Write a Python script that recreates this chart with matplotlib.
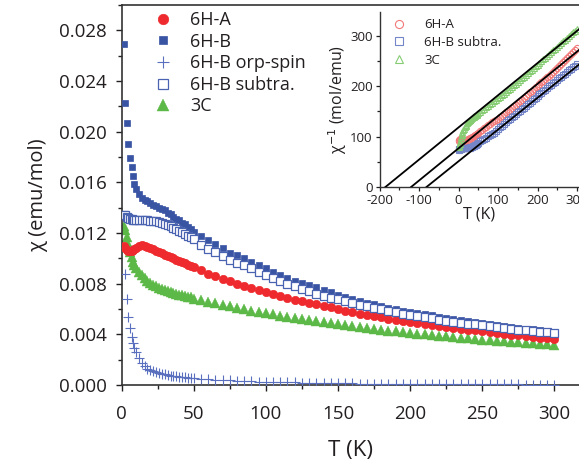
import numpy as np
import matplotlib
matplotlib.use('Agg')
import matplotlib.pyplot as plt
from matplotlib.ticker import MultipleLocator, FormatStrFormatter

plt.rcParams['font.family'] = ['Open Sans', 'DejaVu Sans']
plt.rcParams['axes.unicode_minus'] = False

# temperature grid (K)
T_low = [2, 2.5, 3.5, 4.5, 6, 7, 8, 9, 10, 12, 14, 16, 18, 20, 22, 24, 26, 28,
         30, 32, 34, 36, 38, 40, 42, 44, 46, 48]
T_high = list(range(50, 301, 5))
temps = np.array(T_low + T_high, dtype=float)

# susceptibility (emu/mol)
chi_6HA = [0.01100, 0.01080, 0.01065, 0.01057, 0.01054, 0.01055, 0.01062, 0.01072, 0.01082,
           0.01095, 0.01102, 0.01100, 0.01093, 0.01083, 0.01070, 0.01060, 0.01050, 0.01040,
           0.01030, 0.01020, 0.01010, 0.01000, 0.00990, 0.00980, 0.00970, 0.00960, 0.00950,
           0.00942,
           0.00934, 0.00905, 0.00880, 0.00858, 0.00838, 0.00818, 0.00798, 0.00780, 0.00765,
           0.00750, 0.00736, 0.00720, 0.00706, 0.00690, 0.00675, 0.00662, 0.00650, 0.00638,
           0.00625, 0.00612, 0.00600, 0.00588, 0.00576, 0.00564, 0.00553, 0.00543, 0.00533,
           0.00523, 0.00514, 0.00505, 0.00497, 0.00489, 0.00481, 0.00473, 0.00466, 0.00459,
           0.00452, 0.00445, 0.00438, 0.00431, 0.00424, 0.00417, 0.00411, 0.00404, 0.00398,
           0.00392, 0.00386, 0.00380, 0.00374, 0.00368, 0.00363]

chi_6HB = [0.02690, 0.02230, 0.02070, 0.01900, 0.01790, 0.01720, 0.01650, 0.01590, 0.01550,
           0.01510, 0.01480, 0.01460, 0.01450, 0.01440, 0.01420, 0.01410, 0.01400, 0.01390,
           0.01380, 0.01360, 0.01350, 0.01330, 0.01310, 0.01300, 0.01280, 0.01270, 0.01250,
           0.01230,
           0.01210, 0.01175, 0.01145, 0.01115, 0.01085, 0.01045, 0.01025, 0.01000, 0.00975,
           0.00945, 0.00920, 0.00892, 0.00870, 0.00848, 0.00825, 0.00805, 0.00788, 0.00770,
           0.00752, 0.00734, 0.00714, 0.00697, 0.00680, 0.00665, 0.00650, 0.00636, 0.00623,
           0.00610, 0.00598, 0.00588, 0.00578, 0.00568, 0.00558, 0.00549, 0.00540, 0.00531,
           0.00522, 0.00513, 0.00504, 0.00496, 0.00489, 0.00481, 0.00474, 0.00467, 0.00460,
           0.00453, 0.00446, 0.00440, 0.00433, 0.00427, 0.00420]

chi_6HB_orp = [np.nan, 0.00880, 0.00680, 0.00540, 0.00450, 0.00380, 0.00330, 0.00290, 0.00260,
               0.00210, 0.00175, 0.00150, 0.00130, 0.00118, 0.00108, 0.00100, 0.00094, 0.00088,
               0.00083, 0.00079, 0.00075, 0.00072, 0.00069, 0.00066, 0.00063, 0.00061, 0.00059,
               0.00057,
               0.00055, 0.00050, 0.00046, 0.00042, 0.00039, 0.00036, 0.00033, 0.00031, 0.00029,
               0.00027, 0.00025, 0.00024, 0.00022, 0.00021, 0.00020, 0.00019, 0.00018, 0.00017,
               0.00016, 0.00015, 0.00014, 0.00013, 0.00012, 0.00011, 0.00011, 0.00010, 0.00010,
               0.00009, 0.00009, 0.00008, 0.00008, 0.00008, 0.00007, 0.00007, 0.00007, 0.00006,
               0.00006, 0.00006, 0.00005, 0.00005, 0.00005, 0.00005, 0.00004, 0.00004, 0.00004,
               0.00004, 0.00003, 0.00003, 0.00003, 0.00003, 0.00003]

chi_6HB_sub = [0.01345, 0.01340, 0.01330, 0.01320, 0.01312, 0.01308, 0.01305, 0.01304, 0.01303,
               0.01302, 0.01301, 0.01300, 0.01300, 0.01298, 0.01296, 0.01294, 0.01290, 0.01282,
               0.01272, 0.01265, 0.01255, 0.01242, 0.01228, 0.01215, 0.01205, 0.01195, 0.01180,
               0.01168,
               0.01155, 0.01105, 0.01075, 0.01050, 0.01020, 0.00990, 0.00965, 0.00945, 0.00925,
               0.00895, 0.00870, 0.00845, 0.00822, 0.00800, 0.00778, 0.00757, 0.00740, 0.00722,
               0.00706, 0.00690, 0.00676, 0.00661, 0.00647, 0.00634, 0.00621, 0.00609, 0.00597,
               0.00585, 0.00574, 0.00564, 0.00554, 0.00544, 0.00535, 0.00526, 0.00517, 0.00509,
               0.00501, 0.00493, 0.00485, 0.00478, 0.00471, 0.00464, 0.00457, 0.00450, 0.00444,
               0.00438, 0.00432, 0.00426, 0.00420, 0.00415, 0.00410]

chi_3C = [0.01255, 0.01225, 0.01170, 0.01115, 0.01050, 0.01010, 0.00975, 0.00945, 0.00920,
          0.00890, 0.00865, 0.00843, 0.00825, 0.00808, 0.00793, 0.00780, 0.00768, 0.00757,
          0.00747, 0.00739, 0.00731, 0.00724, 0.00718, 0.00712, 0.00707, 0.00702, 0.00697,
          0.00692,
          0.00680, 0.00668, 0.00656, 0.00644, 0.00632, 0.00620, 0.00609, 0.00598, 0.00588,
          0.00578, 0.00568, 0.00558, 0.00548, 0.00539, 0.00530, 0.00521, 0.00512, 0.00503,
          0.00495, 0.00487, 0.00479, 0.00471, 0.00464, 0.00457, 0.00450, 0.00443, 0.00436,
          0.00430, 0.00424, 0.00418, 0.00412, 0.00406, 0.00400, 0.00395, 0.00389, 0.00384,
          0.00379, 0.00374, 0.00369, 0.00364, 0.00359, 0.00355, 0.00350, 0.00346, 0.00342,
          0.00338, 0.00334, 0.00330, 0.00326, 0.00322, 0.00318]

# Curie-Weiss fits shown in the inset: theta (K) and slope 1/C (mol K/emu)
fit_labels = ['3C', '6H-A', '6H-B subtra.']
fit_theta = [-185, -120, -81]
fit_slope = [0.639, 0.640, 0.630]

red = '#ee2a2e'
blue = '#3a54a4'
green = '#5cb947'
text_col = '#231f20'

fig = plt.figure(figsize=(5.79, 4.62), dpi=100)
ax = fig.add_axes([121.5 / 579, 77 / 462, 1 - 121.5 / 579, 380 / 462])

ax.plot(temps, chi_6HA, 'o', color=red, ms=6, mec=red, mew=0.5, label='6H-A', zorder=4)
ax.plot(temps, chi_6HB, 's', color=blue, ms=5, mec=blue, mew=0.5, label='6H-B', zorder=3)
ax.plot(temps, chi_6HB_orp, '+', color='#5a6fbe', ms=6.5, mew=0.8, label='6H-B orp-spin', zorder=3)
ax.plot(temps, chi_6HB_sub, 's', mfc='white', mec='#4a63b0', ms=5.3, mew=0.9,
        label='6H-B subtra.', zorder=5)
ax.plot(temps, chi_3C, '^', color=green, ms=6.5, mec=green, mew=0.3, label='3C', zorder=2)

ax.set_xlim(0, 317)
ax.set_ylim(0, 0.030)
ax.xaxis.set_major_locator(MultipleLocator(50))
ax.xaxis.set_minor_locator(MultipleLocator(25))
ax.yaxis.set_major_locator(MultipleLocator(0.004))
ax.yaxis.set_minor_locator(MultipleLocator(0.002))
ax.yaxis.set_major_formatter(FormatStrFormatter('%.3f'))
ax.tick_params(which='both', direction='out', colors=text_col, labelsize=13.5, width=1.0)
ax.tick_params(which='major', length=4.5, pad=6)
ax.tick_params(axis='x', which='major', pad=10)
ax.tick_params(which='minor', length=3)
ax.spines['right'].set_visible(False)
for s in ['left', 'bottom', 'top']:
    ax.spines[s].set_linewidth(1.2)
    ax.spines[s].set_color('#333333')
ax.set_xlabel('T (K)', fontsize=16, color=text_col, labelpad=12)
ax.set_ylabel('χ (emu/mol)', fontsize=14.5, color=text_col, labelpad=8)

ax.legend(loc='upper left', bbox_to_anchor=(154 / 579, 1 - 11 / 462), bbox_transform=fig.transFigure,
          frameon=False, fontsize=13, handlelength=1.0, handletextpad=1.0, labelspacing=0.2,
          borderpad=0, borderaxespad=0, markerscale=1.25, labelcolor=text_col)

# inset: inverse susceptibility
ins = fig.add_axes([379.5 / 579, 275 / 462, 1 - 379.5 / 579, 175.3 / 462])
inv_a = 1 / np.array(chi_6HA)
inv_b = 1 / np.array(chi_6HB_sub)
inv_c = 1 / np.array(chi_3C)
ins.plot(temps, inv_a, 'o', mfc='none', mec='#f27a7a', ms=4.5, mew=0.8, label='6H-A')
ins.plot(temps, inv_b, 's', mfc='none', mec='#7485c8', ms=4.2, mew=0.8, label='6H-B subtra.')
ins.plot(temps, inv_c, '^', mfc='none', mec='#86cc73', ms=4.8, mew=0.8, label='3C')
for th, sl in zip(fit_theta, fit_slope):
    tt = np.array([th, 330])
    ins.plot(tt, sl * (tt - th), '-', color='black', lw=1.3, zorder=5)

ins.set_xlim(-200, 305)
ins.set_ylim(0, 348)
ins.xaxis.set_major_locator(MultipleLocator(100))
ins.xaxis.set_minor_locator(MultipleLocator(50))
ins.yaxis.set_major_locator(MultipleLocator(100))
ins.yaxis.set_minor_locator(MultipleLocator(50))
ins.tick_params(which='both', direction='out', colors=text_col, labelsize=9.5, width=0.9)
ins.tick_params(which='major', length=3, pad=2)
ins.tick_params(which='minor', length=2)
ins.spines['right'].set_visible(False)
ins.spines['top'].set_visible(False)
for s in ['left', 'bottom']:
    ins.spines[s].set_linewidth(1.0)
    ins.spines[s].set_color('#333333')
ins.set_xlabel('T (K)', fontsize=11.5, color=text_col, labelpad=0)
ins.set_ylabel('χ$^{-1}$ (mol/emu)', fontsize=11.5, color=text_col, labelpad=1)
ins.legend(loc='upper left', bbox_to_anchor=(392.5 / 579, 1 - 18.5 / 462), bbox_transform=fig.transFigure,
           frameon=False, fontsize=9.5, handlelength=1.0, handletextpad=1.4, labelspacing=0.35,
           borderpad=0, borderaxespad=0, markerscale=1.3, labelcolor=text_col)

fig.savefig('out.png', dpi=100)
